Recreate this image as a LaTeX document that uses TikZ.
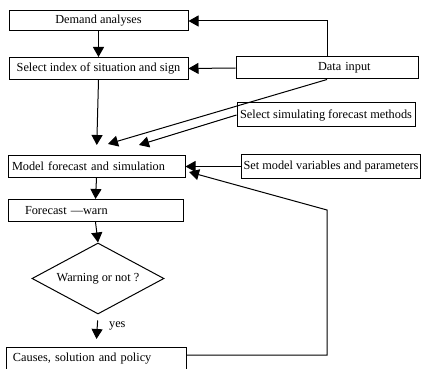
\documentclass[tikz,border=0pt]{standalone}
\usepackage{fontspec}
\setmainfont{Liberation Serif}
\usetikzlibrary{positioning,shapes.geometric,arrows.meta}

\begin{document}
\begin{tikzpicture}[
    x=1pt, y=-1pt,
    txt/.style={font=\fontsize{12.3}{14}\selectfont},
    box/.style={draw, line width=1pt, minimum height=22pt, inner xsep=2pt, inner ysep=2pt, txt},
    lbox/.style={box, align=left, text width=173pt},
    arr/.style={line width=1pt, -{Triangle[length=10pt,width=11pt]}},
]
\useasboundingbox (0,0) rectangle (421,369);

% Left column
\node[box, minimum width=179pt, minimum height=20pt] (demand) at (98.5,21) {Demand analyses};
\node[box, minimum width=179pt] (select) at (98.5,68.5) {Select index of situation and sign};
\node[lbox, text width=173pt] (model) at (96.5,166.5) {\hspace*{2pt}Model forecast and simulation};
\node[lbox, text width=171pt] (forecast) at (95.5,210.5) {\hspace*{15pt}Forecast ---warn};
\node[draw, line width=1pt, diamond, aspect=1.86, minimum width=132pt, minimum height=71pt, inner sep=0pt,
      txt] (warn) at (98,278.5) {Warning or not ?};
\node[lbox, text width=176pt] (causes) at (96,358.5) {\hspace*{5pt}Causes, solution and policy};

% Right column
\node[lbox, text width=178pt] (data) at (327,68) {\hspace*{80pt}Data input};
\node[box, minimum width=178pt, minimum height=24pt] (simsel) at (326,115) {Select simulating forecast methods};
\node[box, minimum width=178pt, minimum height=23pt] (setmodel) at (331,166.5) {Set model variables and parameters};

% Free ends
\coordinate (tipa) at (108,144);
\coordinate (tipb) at (139,145);
\coordinate (fb1) at (327,355);
\coordinate (fb2) at (327,210);
\coordinate (fbtip) at (189,172);

% Connectors
\draw[arr] (data.north) |- (demand.east);
\draw[arr] (data.west) -- (select.east);
\draw[arr] (demand.south) -- (select.north);
\draw[arr, shorten >=10pt] (select.south) -- (model.north);
\draw[arr] (data.south) -- (tipa);
\draw[arr] (simsel.west) -- (tipb);
\draw[arr] (setmodel.west) -- (model.east);
\draw[arr] (fb1 -| causes.east) -- (fb1) -- (fb2) -- (fbtip);
\draw[arr] (model.south) -- (forecast.north);
\draw[arr] (forecast.south) -- (warn.north);
\draw[arr, shorten <=6pt, shorten >=8pt] (warn.south) -- (causes.north)
    node[pos=0.35, right=8pt, txt] (yes) {yes};

\end{tikzpicture}
\end{document}
